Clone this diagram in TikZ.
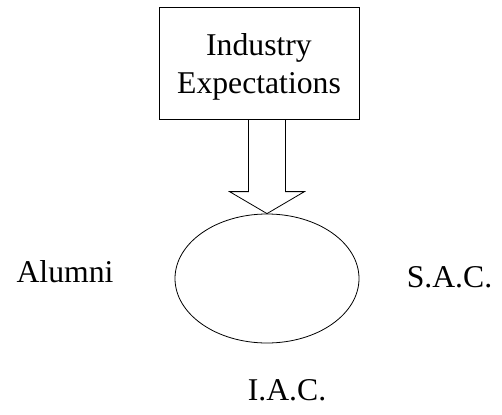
\documentclass[tikz,border=0pt]{standalone}
\usepackage{fontspec}
\setmainfont{Liberation Serif}
\usepackage{tikz}
\usetikzlibrary{shapes.geometric}

\begin{document}
\begin{tikzpicture}[x=1pt,y=1pt]
\tikzstyle{every node}=[font=\fontsize{31.7}{38}\selectfont];
\tikzstyle{box}=[draw,line width=0.8pt,minimum width=200pt,minimum height=112pt,align=center,text height=67.5pt];
\tikzstyle{blob}=[draw,line width=0.8pt,shape=ellipse,minimum width=184pt,minimum height=129pt];
\useasboundingbox (0,0) rectangle (502,-414);
\node[box] (ind) at (259,-63) {Industry\\Expectations};
\node[blob] (core) at (267,-278.5) {};
\node[anchor=base] (alumni) at (65,-282) {Alumni};
\node[anchor=base] (sac) at (449.5,-287) {S.A.C.};
\node[anchor=base] (iac) at (287,-400) {I.A.C.};
% block arrow
\draw[line width=0.8pt] (core.north) -- ++(-37.5,22) -- ++(19,0) coordinate (sl) -- (sl |- ind.south);
\draw[line width=0.8pt] (core.north) -- ++(37.5,22) -- ++(-19,0) coordinate (sr) -- (sr |- ind.south);
\end{tikzpicture}
\end{document}
